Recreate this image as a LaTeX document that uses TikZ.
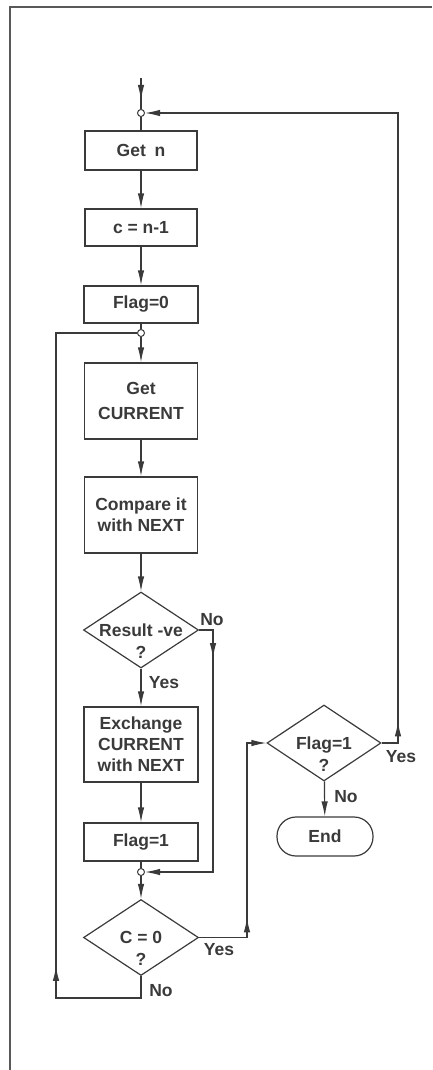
\documentclass[tikz,border=0pt]{standalone}
\usepackage{fontspec}
\setmainfont{Liberation Sans}
\usetikzlibrary{arrows.meta,decorations.markings,shapes.geometric}
\definecolor{ink}{HTML}{3A3A3A}
\begin{document}
\begin{tikzpicture}[x=1pt,y=-1pt,
  every node/.style={font=\bfseries\fontsize{17.5}{21}\selectfont, text=ink},
  box/.style={draw=ink, line width=1.2pt, rectangle, inner sep=0pt, align=center},
  dia/.style={draw=ink, line width=1.2pt, diamond, inner sep=0pt, minimum width=115pt, minimum height=76pt},
  term/.style={draw=ink, line width=1.2pt, rectangle, rounded corners=19pt, inner sep=0pt, minimum width=96pt, minimum height=39pt},
  jn/.style={draw=ink, circle, inner sep=0pt, minimum size=7pt, line width=1pt},
  dtext/.style={align=center, inner sep=0pt, anchor=north, font=\bfseries\fontsize{17.5}{22}\selectfont},
  lbl/.style={inner sep=0pt},
  con/.style={draw=ink, line width=1.2pt},
  arr/.style={con, -{Latex[length=15pt,width=6.5pt]}},
  midarr/.style={con, postaction={decorate, decoration={markings, mark=at position #1 with {\arrow{Latex[length=15pt,width=6.5pt]}}}}}
]
\useasboundingbox (0,0) rectangle (432,1070);
% frame
\draw[draw=black!65, line width=1.3pt] (10,1070) -- (10,7) -- (432,7);

% nodes
\coordinate (start) at (141,78);
\node[jn] (j1) at (141,113) {};
\node[box, minimum width=112pt, minimum height=39pt] (getn) at (141,150.5) {Get\enspace n};
\node[box, minimum width=112pt, minimum height=37pt] (cn) at (141,227.5) {c = n-1};
\node[box, minimum width=114pt, minimum height=37pt] (f0) at (141,304.5) {Flag=0};
\node[jn] (j2) at (141,333) {};
\node[box, minimum width=113pt, minimum height=76pt] (gc) at (141,401) {Get\\[4pt]CURRENT};
\node[box, minimum width=113pt, minimum height=76pt] (cmp) at (141,515) {Compare it\\with NEXT};
\node[dia] (d1) at (141,630) {};
\node[dtext] (d1t) at (141,623.5) {Result -ve\\?};
\node[box, minimum width=114pt, minimum height=75pt] (ex) at (141,744.5) {Exchange\\CURRENT\\with NEXT};
\node[box, minimum width=114pt, minimum height=38pt] (f1) at (141,842) {Flag=1};
\node[jn] (j3) at (141,872) {};
\node[dia] (d2) at (141,937.5) {};
\node[dtext] (d2t) at (141,931) {C = 0\\?};
\node[dia, minimum width=114pt] (d3) at (324,743) {};
\node[dtext] (d3t) at (324,736.5) {Flag=1\\?};
\node[term] (end) at (325,836.5) {End};

% labels
\node[lbl] (lno1) at (212,620) {No};
\node[lbl] (lyes1) at (164,683) {Yes};
\node[lbl] (lyes2) at (219,950) {Yes};
\node[lbl] (lno2) at (161,991) {No};
\node[lbl] (lyes3) at (401,757) {Yes};
\node[lbl] (lno3) at (346,797) {No};

% connectors
\draw[midarr=22pt] (start) -- (j1.north);
\draw[con] (j1) -- (getn);
\draw[arr] (getn) -- (cn);
\draw[arr] (cn) -- (f0);
\draw[con] (f0) -- (j2);
\draw[arr] (j2) -- (gc);
\draw[arr] (gc) -- (cmp);
\draw[arr] (cmp) -- (d1);
\draw[arr] (d1) -- (ex);
\draw[arr] (ex) -- (f1);
\draw[con] (f1) -- (j3);
\draw[arr] (j3) -- (d2);
\draw[arr] (d3) -- (end);
\draw[arr, midarr=42pt] (d1.east) -- (213,630) -- (213,872) -- (j3.east);
\draw[arr, midarr=68pt] (d2.east) -- (247,937.5) -- (247,743) -- (d3.west);
\draw[midarr=139pt] (d2.south) -- (141,998) -- (56,998) -- (56,333) -- (j2.west);
\draw[arr, midarr=38pt] (d3.east) -- (398,743) -- (398,113) -- (j1.east);
\end{tikzpicture}
\end{document}
